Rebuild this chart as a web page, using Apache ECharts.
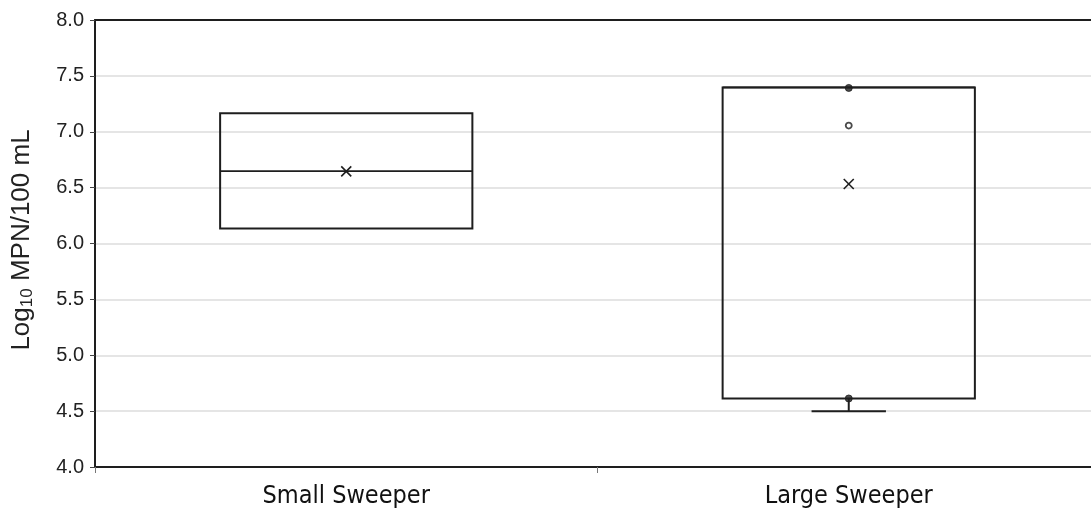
<!DOCTYPE html>
<html>
<head>
<meta charset="utf-8">
<script src="https://cdn.jsdelivr.net/npm/echarts@6/dist/echarts.min.js"></script>
<style>html,body{margin:0;padding:0;background:#fff}#c{width:1091px;height:517px}</style>
</head>
<body>
<div id="c"></div>
<script>
// Data
const categories = ['Small Sweeper', 'Large Sweeper'];
// [whisker min, Q1, median, Q3, whisker max]
const boxStats = [
  [6.135, 6.135, 6.648, 7.165, 7.165],
  [4.50, 4.613, 7.397, 7.397, 7.397]
];
const means = [6.645, 6.532];
// inner points: [categoryIndex, value]
const edgePoints = [[1, 7.392], [1, 4.613]];
const openPoints = [[1, 7.055]];
const yTicks = { min: 4.0, max: 8.0, interval: 0.5 };

const ink = '#1e1e1e';
const sans = 'Arial';
const narrow = 'DejaVu Sans Condensed';
const chart = echarts.init(document.getElementById('c'));

function boxRender(params, api) {
  const idx = api.value(0);
  const wMin = api.value(1), q1 = api.value(2), med = api.value(3), q3 = api.value(4), wMax = api.value(5);
  const band = api.size([1, 0])[0];
  const bw = band * 0.502;
  const cw = band * 0.148;
  const cx = api.coord([idx, q1])[0];
  const yQ1 = api.coord([idx, q1])[1];
  const yQ3 = api.coord([idx, q3])[1];
  const yMed = api.coord([idx, med])[1];
  const yMin = api.coord([idx, wMin])[1];
  const yMax = api.coord([idx, wMax])[1];
  const st = { stroke: ink, lineWidth: 2, fill: null };
  const children = [];
  if (yMin - yQ1 > 0.5) {
    children.push({ type: 'line', shape: { x1: cx, y1: yQ1, x2: cx, y2: yMin }, style: st });
    children.push({ type: 'line', shape: { x1: cx - cw / 2, y1: yMin, x2: cx + cw / 2, y2: yMin }, style: st });
  }
  if (yQ3 - yMax > 0.5) {
    children.push({ type: 'line', shape: { x1: cx, y1: yQ3, x2: cx, y2: yMax }, style: st });
    children.push({ type: 'line', shape: { x1: cx - cw / 2, y1: yMax, x2: cx + cw / 2, y2: yMax }, style: st });
  }
  children.push({ type: 'rect', shape: { x: cx - bw / 2, y: yQ3, width: bw, height: yQ1 - yQ3 }, style: { stroke: ink, lineWidth: 2, fill: 'rgba(0,0,0,0)' } });
  children.push({ type: 'line', shape: { x1: cx - bw / 2, y1: yMed, x2: cx + bw / 2, y2: yMed }, style: { stroke: ink, lineWidth: 1.6 } });
  return { type: 'group', children };
}

function meanRender(params, api) {
  const p = api.coord([api.value(0), api.value(1)]);
  const h = 5;
  return { type: 'group', children: [
    { type: 'line', shape: { x1: p[0] - h, y1: p[1] - h, x2: p[0] + h, y2: p[1] + h }, style: { stroke: ink, lineWidth: 1.6 } },
    { type: 'line', shape: { x1: p[0] - h, y1: p[1] + h, x2: p[0] + h, y2: p[1] - h }, style: { stroke: ink, lineWidth: 1.6 } }
  ]};
}

chart.setOption({
  animation: false,
  backgroundColor: '#fff',
  textStyle: { fontFamily: sans },
  grid: { left: 95, width: 1005, top: 20, bottom: 50, outerBoundsMode: 'none', containLabel: false },
  xAxis: [{
    type: 'category',
    data: categories,
    axisLine: { show: true, lineStyle: { color: ink, width: 2 } },
    axisTick: { show: true, length: 6, lineStyle: { color: '#777', width: 1 } },
    axisLabel: { color: '#111', fontSize: 25, fontFamily: narrow, margin: 17 },
    splitLine: { show: false }
  }, {
    type: 'category',
    position: 'top',
    data: categories,
    axisLine: { show: true, lineStyle: { color: ink, width: 2 } },
    axisTick: { show: false },
    axisLabel: { show: false }
  }],
  yAxis: {
    type: 'value',
    min: yTicks.min, max: yTicks.max, interval: yTicks.interval,
    name: '{a|Log}{s|10}{a| MPN/100 mL}',
    nameLocation: 'middle',
    nameRotate: 90,
    nameGap: 59,
    nameTextStyle: {
      fontFamily: sans,
      padding: [0, 0, 0, 7],
      rich: {
        a: { fontSize: 26, color: '#222', fontFamily: sans },
        s: { fontSize: 17, color: '#222', fontFamily: sans, padding: [12, 0, 0, 0] }
      }
    },
    axisLine: { show: true, lineStyle: { color: ink, width: 2 } },
    axisTick: { show: true, length: 5, lineStyle: { color: '#444', width: 1 } },
    axisLabel: { color: '#222', fontSize: 20, fontFamily: sans, margin: 11, formatter: v => v.toFixed(1) },
    splitLine: { show: true, lineStyle: { color: '#dcdcdc', width: 1.5 } }
  },
  series: [{
    type: 'custom',
    renderItem: boxRender,
    encode: { x: 0, y: [1, 2, 3, 4, 5] },
    data: boxStats.map((s, i) => [i].concat(s)),
    z: 3
  }, {
    type: 'custom',
    renderItem: meanRender,
    encode: { x: 0, y: 1 },
    data: means.map((m, i) => [i, m]),
    z: 4
  }, {
    type: 'scatter',
    symbol: 'circle',
    symbolSize: 7,
    itemStyle: { color: ink, borderColor: ink, borderWidth: 1 },
    data: edgePoints,
    z: 5
  }, {
    type: 'scatter',
    symbol: 'circle',
    symbolSize: 6,
    itemStyle: { color: '#fff', borderColor: ink, borderWidth: 1.8 },
    data: openPoints,
    z: 5
  }]
});
</script>
</body>
</html>
